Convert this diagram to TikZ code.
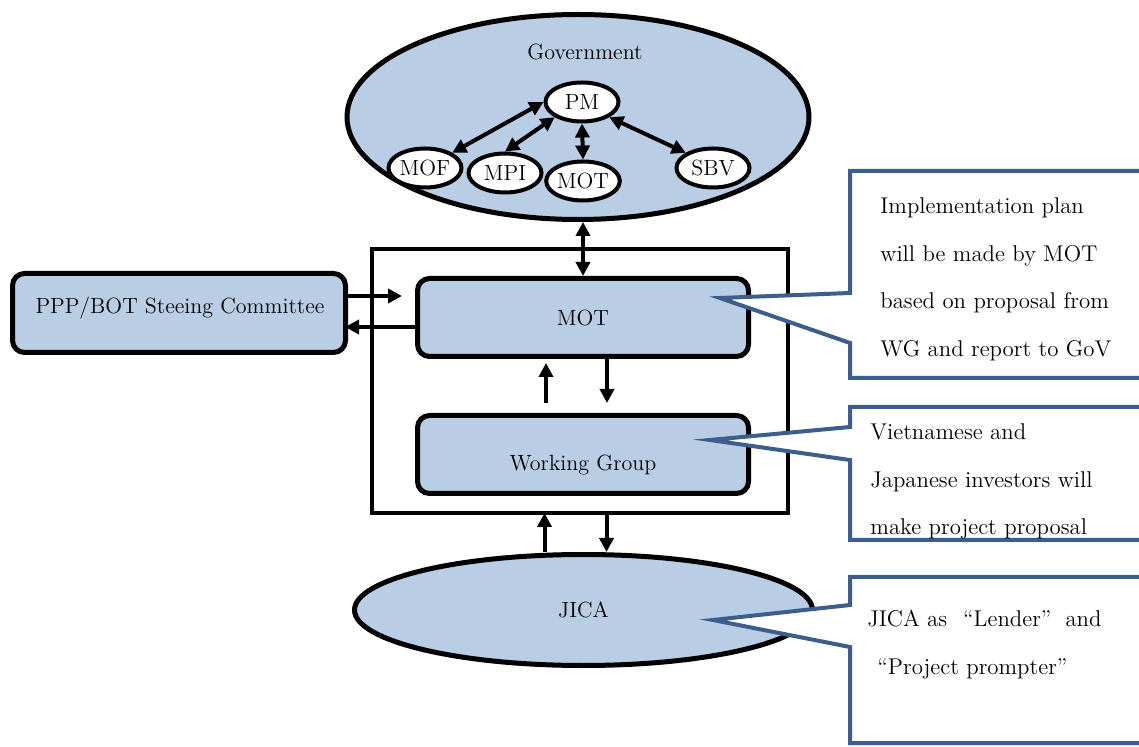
\documentclass[tikz,border=0pt]{standalone}
\usepackage{xcolor}
\definecolor{boxblue}{RGB}{185,205,229}
\definecolor{noteblue}{RGB}{59,94,140}
\usepackage{tikz}
\usetikzlibrary{shapes.geometric, arrows.meta, calc}
\tikzstyle{bigoval} = [
    ellipse, draw, line width=2.5pt, fill=boxblue, inner sep=0pt,
]
\tikzstyle{smalloval} = [
    ellipse, draw, line width=2pt, fill=white, inner sep=0pt,
    minimum width=36.5pt, minimum height=19.5pt,
]
\tikzstyle{block} = [
    rectangle, rounded corners=6pt, draw, line width=2.5pt, fill=boxblue,
    inner sep=0pt, minimum width=165.5pt, minimum height=39pt,
]
\tikzstyle{note} = [draw=noteblue, line width=2pt, fill=white]
\tikzstyle{notetext} = [
    anchor=north west, inner sep=0pt, align=left,
    font=\fontsize{11.4}{23.9}\selectfont,
]
\tikzstyle{arrow} = [line width=2pt, -{Triangle[length=7pt,width=7pt]}]
\tikzstyle{twoway} = [
    line width=2pt, {Triangle[length=7pt,width=7pt]}-{Triangle[length=7pt,width=7pt]},
]

\begin{document}
\begin{tikzpicture}[x=0.5pt, y=-0.5pt, font=\fontsize{11}{13}\selectfont]
    \useasboundingbox (0,0) rectangle (1139,747);
    \clip (0,0) rectangle (1139,747);

    % government with its ministries
    \node[bigoval, minimum width=231pt, minimum height=102.5pt] (gov) at (578,117) {};
    \node (govtext) at (585,52) {Government};
    \node[smalloval] (pm) at (582,102) {PM};
    \node[smalloval] (mof) at (425,168) {MOF};
    \node[smalloval] (mpi) at (505,173) {MPI};
    \node[smalloval] (motgov) at (583,181) {MOT};
    \node[smalloval] (sbv) at (713,168) {SBV};

    \draw[twoway] (pm.west) -- (mof.north east);
    \draw[twoway] (pm.south west) -- (mpi.north);
    \draw[twoway] (pm.south) -- (motgov.north);
    \draw[twoway] (pm.south east) -- (sbv.north west);

    % ministry frame
    \draw[line width=2.2pt] (372,249) rectangle (788,513);
    \coordinate (framebot) at (580,513);
    \node[block] (mot) at (583,317.5) {MOT};
    \node[block] (wg) at (583,454.5) {};
    \node (wgtext) at (583,465) {Working Group};

    \draw[twoway] (gov.south -| mot.north) -- (mot.north);
    \draw[arrow] ($(wg.north)+(-37,-10)$) -- ($(mot.south)+(-37,4)$);
    \draw[arrow] ($(mot.south)+(24,0)$) -- ($(wg.north)+(24,-10)$);

    % steering committee
    \node[block, minimum width=166.5pt, minimum height=39.5pt] (ppp) at (179,313) {};
    \node (ppptext) at (180,308) {PPP/BOT Steeing Committee};
    \draw[arrow] ($(ppp.east)+(-3,-17)$) -- ($(mot.west |- ppp.east)+(-13,-17)$);
    \draw[arrow] ($(mot.west |- ppp.east)+(0,14)$) -- ($(ppp.east)+(-3,14)$);

    % lender
    \node[bigoval, minimum width=229pt, minimum height=55.5pt] (jica) at (583.5,610) {JICA};
    \coordinate (jicaup) at ($(jica.north)+(-39,0)$);
    \coordinate (jicadown) at ($(jica.north)+(23,0)$);
    \draw[arrow] (jicaup) -- (jicaup |- framebot);
    \draw[arrow] (jicadown |- framebot) -- (jicadown);

    % callouts
    \draw[note] (850,293) -- (720,298) -- (850,343) -- (850,378) -- (1170,378)
        -- (1170,171) -- (850,171) -- cycle;
    \node[notetext] (plannote) at (880,197)
        {Implementation plan\\will be made by MOT\\based on proposal from\\WG and report to GoV};

    \draw[note] (850,427) -- (710,440) -- (850,460) -- (850,540) -- (1170,540)
        -- (1170,407) -- (850,407) -- cycle;
    \node[notetext] (wgnote) at (870,423)
        {Vietnamese and\\Japanese investors will\\make project proposal};

    \draw[note] (850,605) -- (713,620) -- (850,647) -- (850,743) -- (1170,743)
        -- (1170,577) -- (850,577) -- cycle;
    \node[notetext] (jicanote) at (867,610)
        {JICA as\hspace{8pt}``Lender''\hspace{7pt}and\\\hspace{5pt}``Project prompter''};
\end{tikzpicture}
\end{document}
